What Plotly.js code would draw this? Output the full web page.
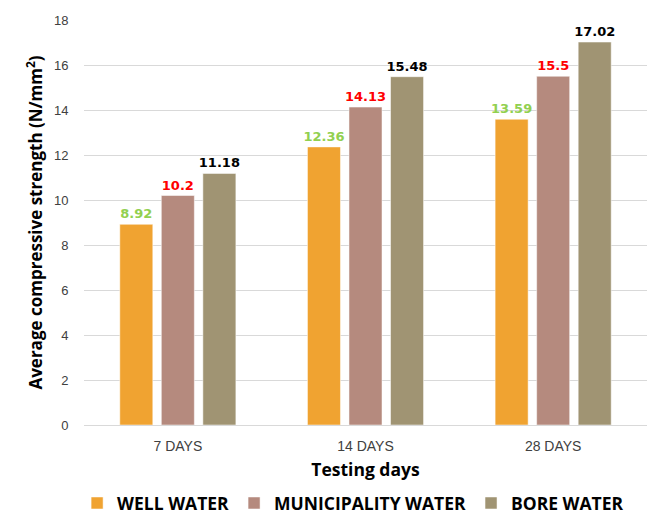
<!DOCTYPE html>
<html>
<head>
<meta charset="utf-8">
<script src="https://cdn.plot.ly/plotly-3.0.1.min.js"></script>
<style>html,body{margin:0;padding:0;background:#fff;}#chart{width:660px;height:516px;}</style>
</head>
<body>
<div id="chart"></div>
<script>
const categories = ["7 DAYS", "14 DAYS", "28 DAYS"];
const wellWater = [8.92, 12.36, 13.59];
const municipalityWater = [10.2, 14.13, 15.5];
const boreWater = [11.18, 15.48, 17.02];
const seriesNames = ["WELL WATER", "MUNICIPALITY WATER", "BORE WATER"];
const yTicks = [0, 2, 4, 6, 8, 10, 12, 14, 16, 18];

const colors = ["#F0A331", "#B58A7E", "#A09473"];
const labelColors = ["#92D050", "#FF0000", "#000000"];
const data = [wellWater, municipalityWater, boreWater].map((vals, i) => ({
  type: "bar",
  name: seriesNames[i],
  x: categories,
  y: vals,
  text: vals.map(v => String(v)),
  textposition: "outside",
  constraintext: "none",
  cliponaxis: false,
  textfont: {family: "DejaVu Sans", size: 13, color: labelColors[i], weight: "bold"},
  marker: {color: colors[i], line: {color: "#ffffff", width: 0.5}},
  hoverinfo: "none"
}));

const layout = {
  width: 660, height: 516,
  margin: {l: 84, r: 13, t: 20, b: 91, autoexpand: false},
  paper_bgcolor: "#ffffff", plot_bgcolor: "#ffffff",
  barmode: "group", bargap: 0.336, bargroupgap: 0.205,
  showlegend: true,
  legend: {orientation: "h", x: 0.535, xref: "container", xanchor: "center",
    y: 0.025, yref: "container", yanchor: "middle",
    font: {family: "Open Sans", size: 17.5, color: "#000", weight: "bold"}, itemwidth: 30, traceorder: "normal"},
  xaxis: {
    tickfont: {family: "Liberation Sans", size: 14, color: "#404040"},
    showline: true, linecolor: "#d9d9d9", linewidth: 1,
    ticks: "outside", ticklen: 8, tickcolor: "rgba(0,0,0,0)",
    title: {text: "Testing days", font: {family: "Open Sans", size: 17.5, color: "#000", weight: "bold"}, standoff: 10}
  },
  yaxis: {
    range: [0, 18], tickvals: yTicks, ticktext: yTicks.map(String),
    tickfont: {family: "Liberation Sans", size: 13, color: "#404040"},
    showgrid: true, gridcolor: "#d9d9d9", gridwidth: 1, zeroline: false, showline: false,
    ticks: "outside", ticklen: 12, tickcolor: "rgba(0,0,0,0)",
    title: {text: "Average compressive strength (N/mm<sup>2</sup>)", font: {family: "Open Sans", size: 17, color: "#000", weight: "bold"}, standoff: 6}
  }
};

Plotly.newPlot("chart", data, layout, {staticPlot: true});
</script>
</body>
</html>
